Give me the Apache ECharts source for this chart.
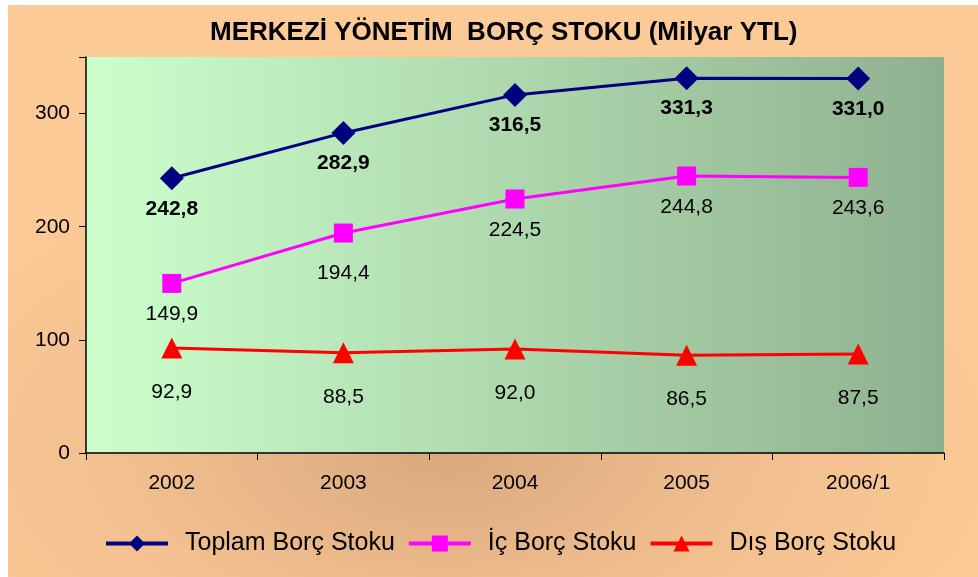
<!DOCTYPE html>
<html>
<head>
<meta charset="utf-8">
<script src="https://cdn.jsdelivr.net/npm/echarts@6/dist/echarts.min.js"></script>
<style>
  html, body { margin: 0; padding: 0; background: #fff; }
  #chart {
    position: absolute; left: 8px; top: 5px; width: 970px; height: 572px;
    background: radial-gradient(ellipse 60% 55% at 45% 78%, #d9a87e 0%, #f2c08f 55%, #fcca96 100%);
  }
</style>
</head>
<body>
<div id="chart"></div>
<script>
const years = ['2002', '2003', '2004', '2005', '2006/1']
const toplam = [242.8, 282.9, 316.5, 331.3, 331.0]
const ic = [149.9, 194.4, 224.5, 244.8, 243.6]
const dis = [92.9, 88.5, 92.0, 86.5, 87.5]
const seriesNames = ['Toplam Borç Stoku', 'İç Borç Stoku', 'Dış Borç Stoku']
const yTicks = [0, 100, 200, 300]

const font = 'Arial, "Liberation Sans", sans-serif'
const fmt = p => p.value.toFixed(1).replace('.', ',')

function lineSeries (name, data, color, symbol, size, labelOpts) {
  return {
    name,
    type: 'line',
    data,
    symbol,
    symbolSize: size,
    color,
    lineStyle: { color, width: 3 },
    itemStyle: { color },
    label: Object.assign({
      show: true,
      position: 'bottom',
      formatter: fmt,
      color: '#000',
      fontFamily: font,
      fontSize: 21
    }, labelOpts),
    z: 3
  }
}

// İç 2003 label sits a little lower in the original
const icData = ic.map((v, i) => i === 1 ? { value: v, label: { distance: 20 } } : v)

const chart = echarts.init(document.getElementById('chart'), null, { renderer: 'canvas' })
chart.setOption({
  backgroundColor: 'transparent',
  animation: false,
  title: {
    text: 'MERKEZİ YÖNETİM  BORÇ STOKU (Milyar YTL)',
    left: 197,
    top: 10,
    textStyle: { fontFamily: font, fontWeight: 'bold', fontSize: 26, color: '#000' }
  },
  legend: {
    left: 91,
    top: 521,
    itemWidth: 62,
    itemHeight: 20,
    itemGap: 12,
    lineStyle: { width: 4 },
    textStyle: { fontFamily: font, fontSize: 25, color: '#000', padding: [0, 0, 0, 12] },
    data: seriesNames
  },
  grid: {
    left: 78,
    top: 52,
    width: 858,
    height: 396,
    show: true,
    borderWidth: 0,
    backgroundColor: {
      type: 'linear', x: 0, y: 0, x2: 1, y2: 0,
      colorStops: [{ offset: 0, color: '#ccffcc' }, { offset: 1, color: '#8fb08f' }]
    }
  },
  xAxis: {
    type: 'category',
    data: years,
    boundaryGap: true,
    axisLine: { lineStyle: { color: '#000', width: 1.5 } },
    axisTick: { show: true, length: 7, lineStyle: { color: '#000' } },
    axisLabel: { fontFamily: font, fontSize: 21, color: '#000', margin: 20 }
  },
  yAxis: {
    type: 'value',
    min: 0,
    max: 350,
    interval: 100,
    splitLine: { show: false },
    axisLine: { show: true, lineStyle: { color: '#000', width: 1.5 } },
    axisTick: { show: true, length: 7, lineStyle: { color: '#000' } },
    axisLabel: {
      fontFamily: font, fontSize: 21, color: '#000', margin: 16,
      formatter: v => yTicks.includes(v) ? String(v) : ''
    }
  },
  series: [
    lineSeries(seriesNames[0], toplam, '#000080', 'diamond', 24, { fontWeight: 'bold', distance: 8 }),
    lineSeries(seriesNames[1], icData, '#ff00ff', 'rect', 19, { distance: 11 }),
    lineSeries(seriesNames[2], dis, '#ff0000', 'triangle', 21, { distance: 23 })
  ]
})
</script>
</body>
</html>
